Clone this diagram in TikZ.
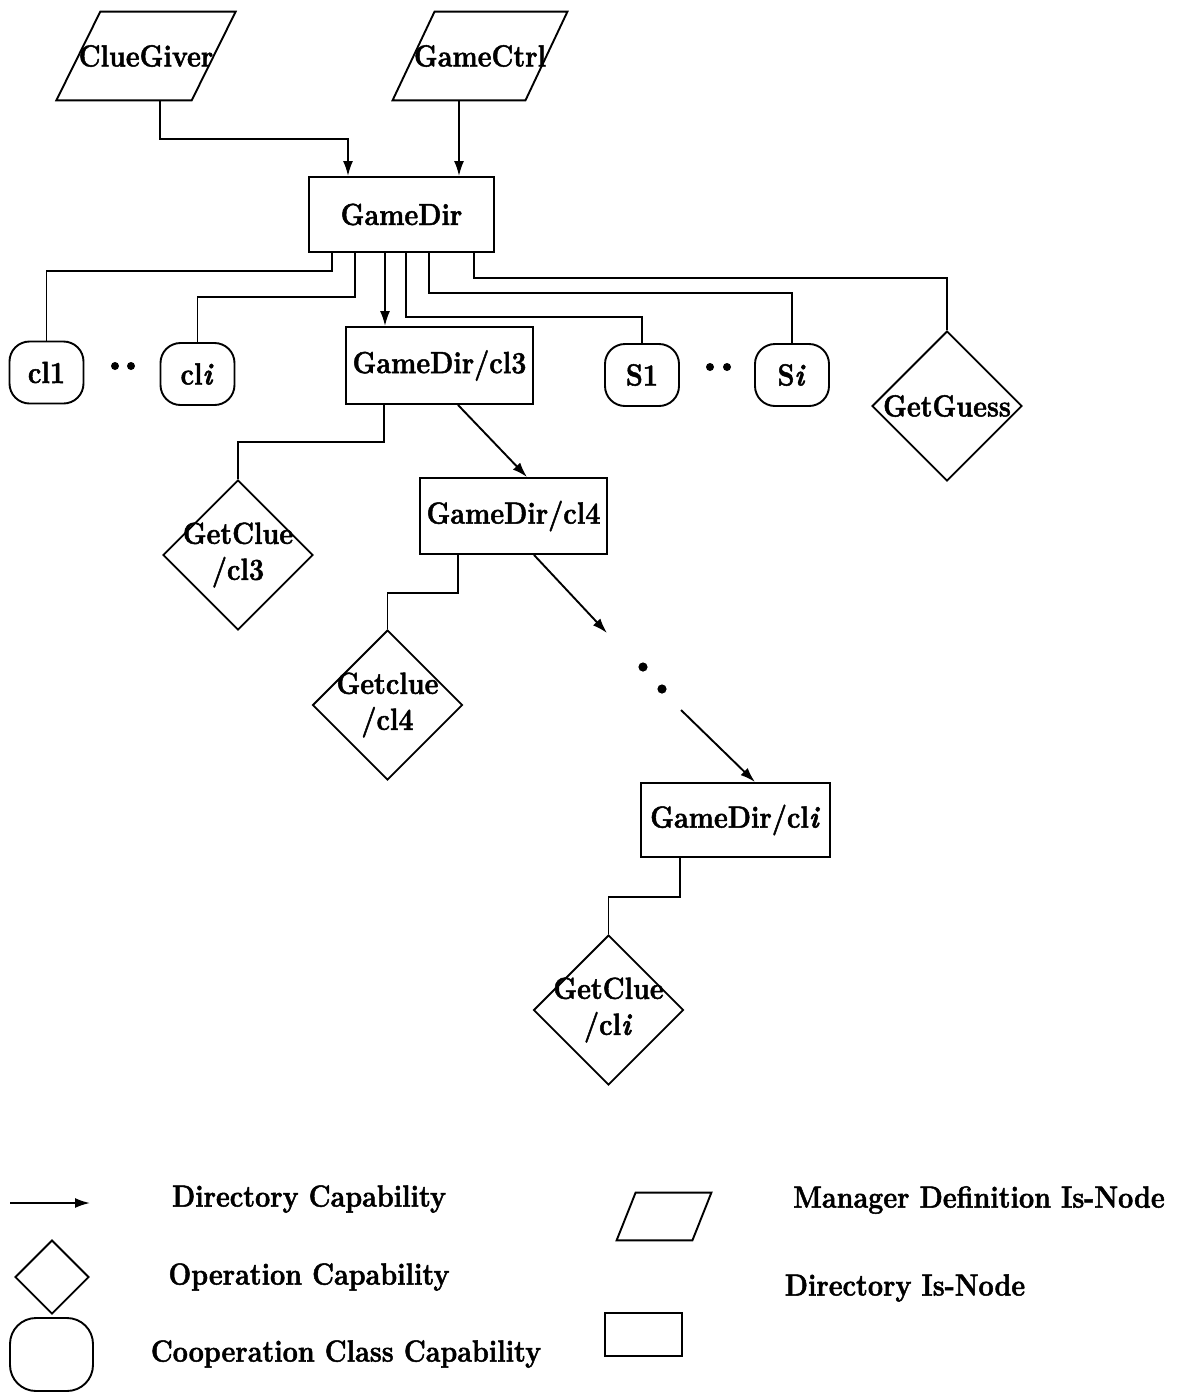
\documentclass[tikz,border=0pt]{standalone}
\usepackage{fontspec}
\setmainfont{Latin Modern Roman}[FakeStretch=0.88,
  BoldFeatures={FakeBold=1.6},BoldItalicFeatures={FakeBold=1.6}]
\usetikzlibrary{shapes.geometric,arrows.meta,calc}
% italic index letter used in the labels
\newcommand{\ix}{\textit{i}\kern0.5pt}
% parallelogram drawn around a named (invisible) node; #2 = half of the slant
\newcommand{\mgrshape}[2]{%
  \draw[conn] ($(#1.north west)+(#2,0)$) -- ($(#1.north east)+(#2,0)$)
    -- ($(#1.south east)+(-#2,0)$) -- ($(#1.south west)+(-#2,0)$) -- cycle;}
\begin{document}
\begin{tikzpicture}[x=0.5pt,y=-0.5pt,
  every node/.style={font=\fontsize{15.3}{18}\selectfont\bfseries},
  conn/.style={line width=0.95pt},
  dircap/.style={conn,-{Latex[length=7.5pt,width=5pt]}},
  dirbox/.style={draw,line width=0.95pt,rectangle,inner sep=0pt},
  coop/.style={draw,line width=0.95pt,rectangle,rounded corners=10pt,inner sep=0pt,
               minimum width=37pt,minimum height=31pt},
  oper/.style={draw,line width=0.95pt,diamond,inner sep=0pt,
               minimum width=75pt,minimum height=75pt},
  mgr/.style={rectangle,inner sep=0pt},
  optext/.style={align=center,inner sep=0pt},
]
\useasboundingbox (0,0) rectangle (1193,1393);

% ---- manager definition nodes
\node[mgr,minimum width=66pt,minimum height=44pt] (cg) at (146,56) {ClueGiver};
\mgrshape{cg}{22}
\node[mgr,minimum width=64pt,minimum height=44pt] (gc) at (480,56) {GameCtrl};
\mgrshape{gc}{21}

% ---- directory nodes
\node[dirbox,minimum width=92.5pt,minimum height=37.5pt] (gd) at (401.5,214.5) {GameDir};
\node[dirbox,minimum width=93.5pt,minimum height=38.5pt] (c3) at (439.5,365.5) {GameDir/cl3};
\node[dirbox,minimum width=93.5pt,minimum height=38pt] (c4) at (513.5,516) {GameDir/cl4};
\node[dirbox,minimum width=94.5pt,minimum height=37pt] (cn) at (735.5,820) {GameDir/cl\ix};

% ---- cooperation classes
\node[coop] (k1) at (46.5,372.5) {cl1};
\node[coop] (ki) at (197.5,374) {cl\ix};
\node[coop] (s1) at (642,375) {S1};
\node[coop] (si) at (792,375) {S\ix};
\fill (115,366) circle (2pt);
\fill (131,366) circle (2pt);
\fill (710,367) circle (2pt);
\fill (727,367) circle (2pt);

% ---- operations
\node[oper,label={[optext]center:GetGuess}] (gg) at (947,406) {};
\node[oper,label={[optext]center:GetClue\\/cl3}] (g3) at (238,555) {};
\node[oper,label={[optext]center:Getclue\\/cl4}] (g4) at (387.5,705) {};
\node[oper,label={[optext]center:GetClue\\/cl\ix}] (gn) at (608.5,1010) {};

% ---- connectors
\draw[dircap] ([xshift=7pt]cg.south) -- ++(0,39) -| ([xshift=-26.75pt]gd.north);
\draw[dircap] ([xshift=-10.5pt]gc.south) -- ([xshift=-10.5pt]gc.south |- gd.north);

\draw[conn] ([xshift=-34.75pt]gd.south) -- ++(0,18) -| (k1.north);
\draw[conn] ([xshift=-23.25pt]gd.south) -- ++(0,44) -| (ki.north);
\draw[dircap] ([xshift=-8.25pt]gd.south) -- ([xshift=-8.25pt]gd.south |- c3.north);
\draw[conn] ([xshift=2.25pt]gd.south) -- ++(0,64) -| (s1.north);
\draw[conn] ([xshift=13.75pt]gd.south) -- ++(0,40) -| (si.north);
\draw[conn] ([xshift=36.25pt]gd.south) -- ++(0,25) -| (gg.north);

\draw[conn] ([xshift=-27.75pt]c3.south) -- ++(0,37) -| (g3.north);
\draw[dircap] ([xshift=9.25pt]c3.south) -- ([xshift=6.75pt]c4.north);

\draw[conn] ([xshift=-27.75pt]c4.south) -- ++(0,38) -| (g4.north);
\coordinate (gapA) at (607,633);
\draw[dircap] ([xshift=10.25pt]c4.south) -- (gapA);
\fill (643,667) circle (2.3pt);
\fill (662,689) circle (2.3pt);
\coordinate (gapB) at (681,710);
\draw[dircap] (gapB) -- ([xshift=9.75pt]cn.north);

\draw[conn] ([xshift=-27.75pt]cn.south) -- ++(0,39) -| (gn.north);

% ---- legend
\coordinate (la) at (10,1203);
\coordinate (lb) at (90,1203);
\draw[dircap] (la) -- (lb);
\node (t1) at (309,1199) {Directory Capability};
\node[oper,minimum width=37pt,minimum height=37pt] (ld) at (52,1277) {};
\node (t2) at (309,1277) {Operation Capability};
\node[coop,minimum width=41.5pt,minimum height=36.5pt,rounded corners=13pt] (lr) at (51.5,1354.5) {};
\node (t3) at (346,1354) {Cooperation Class Capability};
\node[mgr,minimum width=37.5pt,minimum height=23.5pt] (lp) at (664,1216.5) {};
\mgrshape{lp}{9.5}
\node (t4) at (979,1200) {Manager Definition Is-Node};
\node[dirbox,minimum width=38.5pt,minimum height=21.5pt] (lq) at (643.5,1334.5) {};
\node (t5) at (905,1288) {Directory Is-Node};
\end{tikzpicture}
\end{document}
